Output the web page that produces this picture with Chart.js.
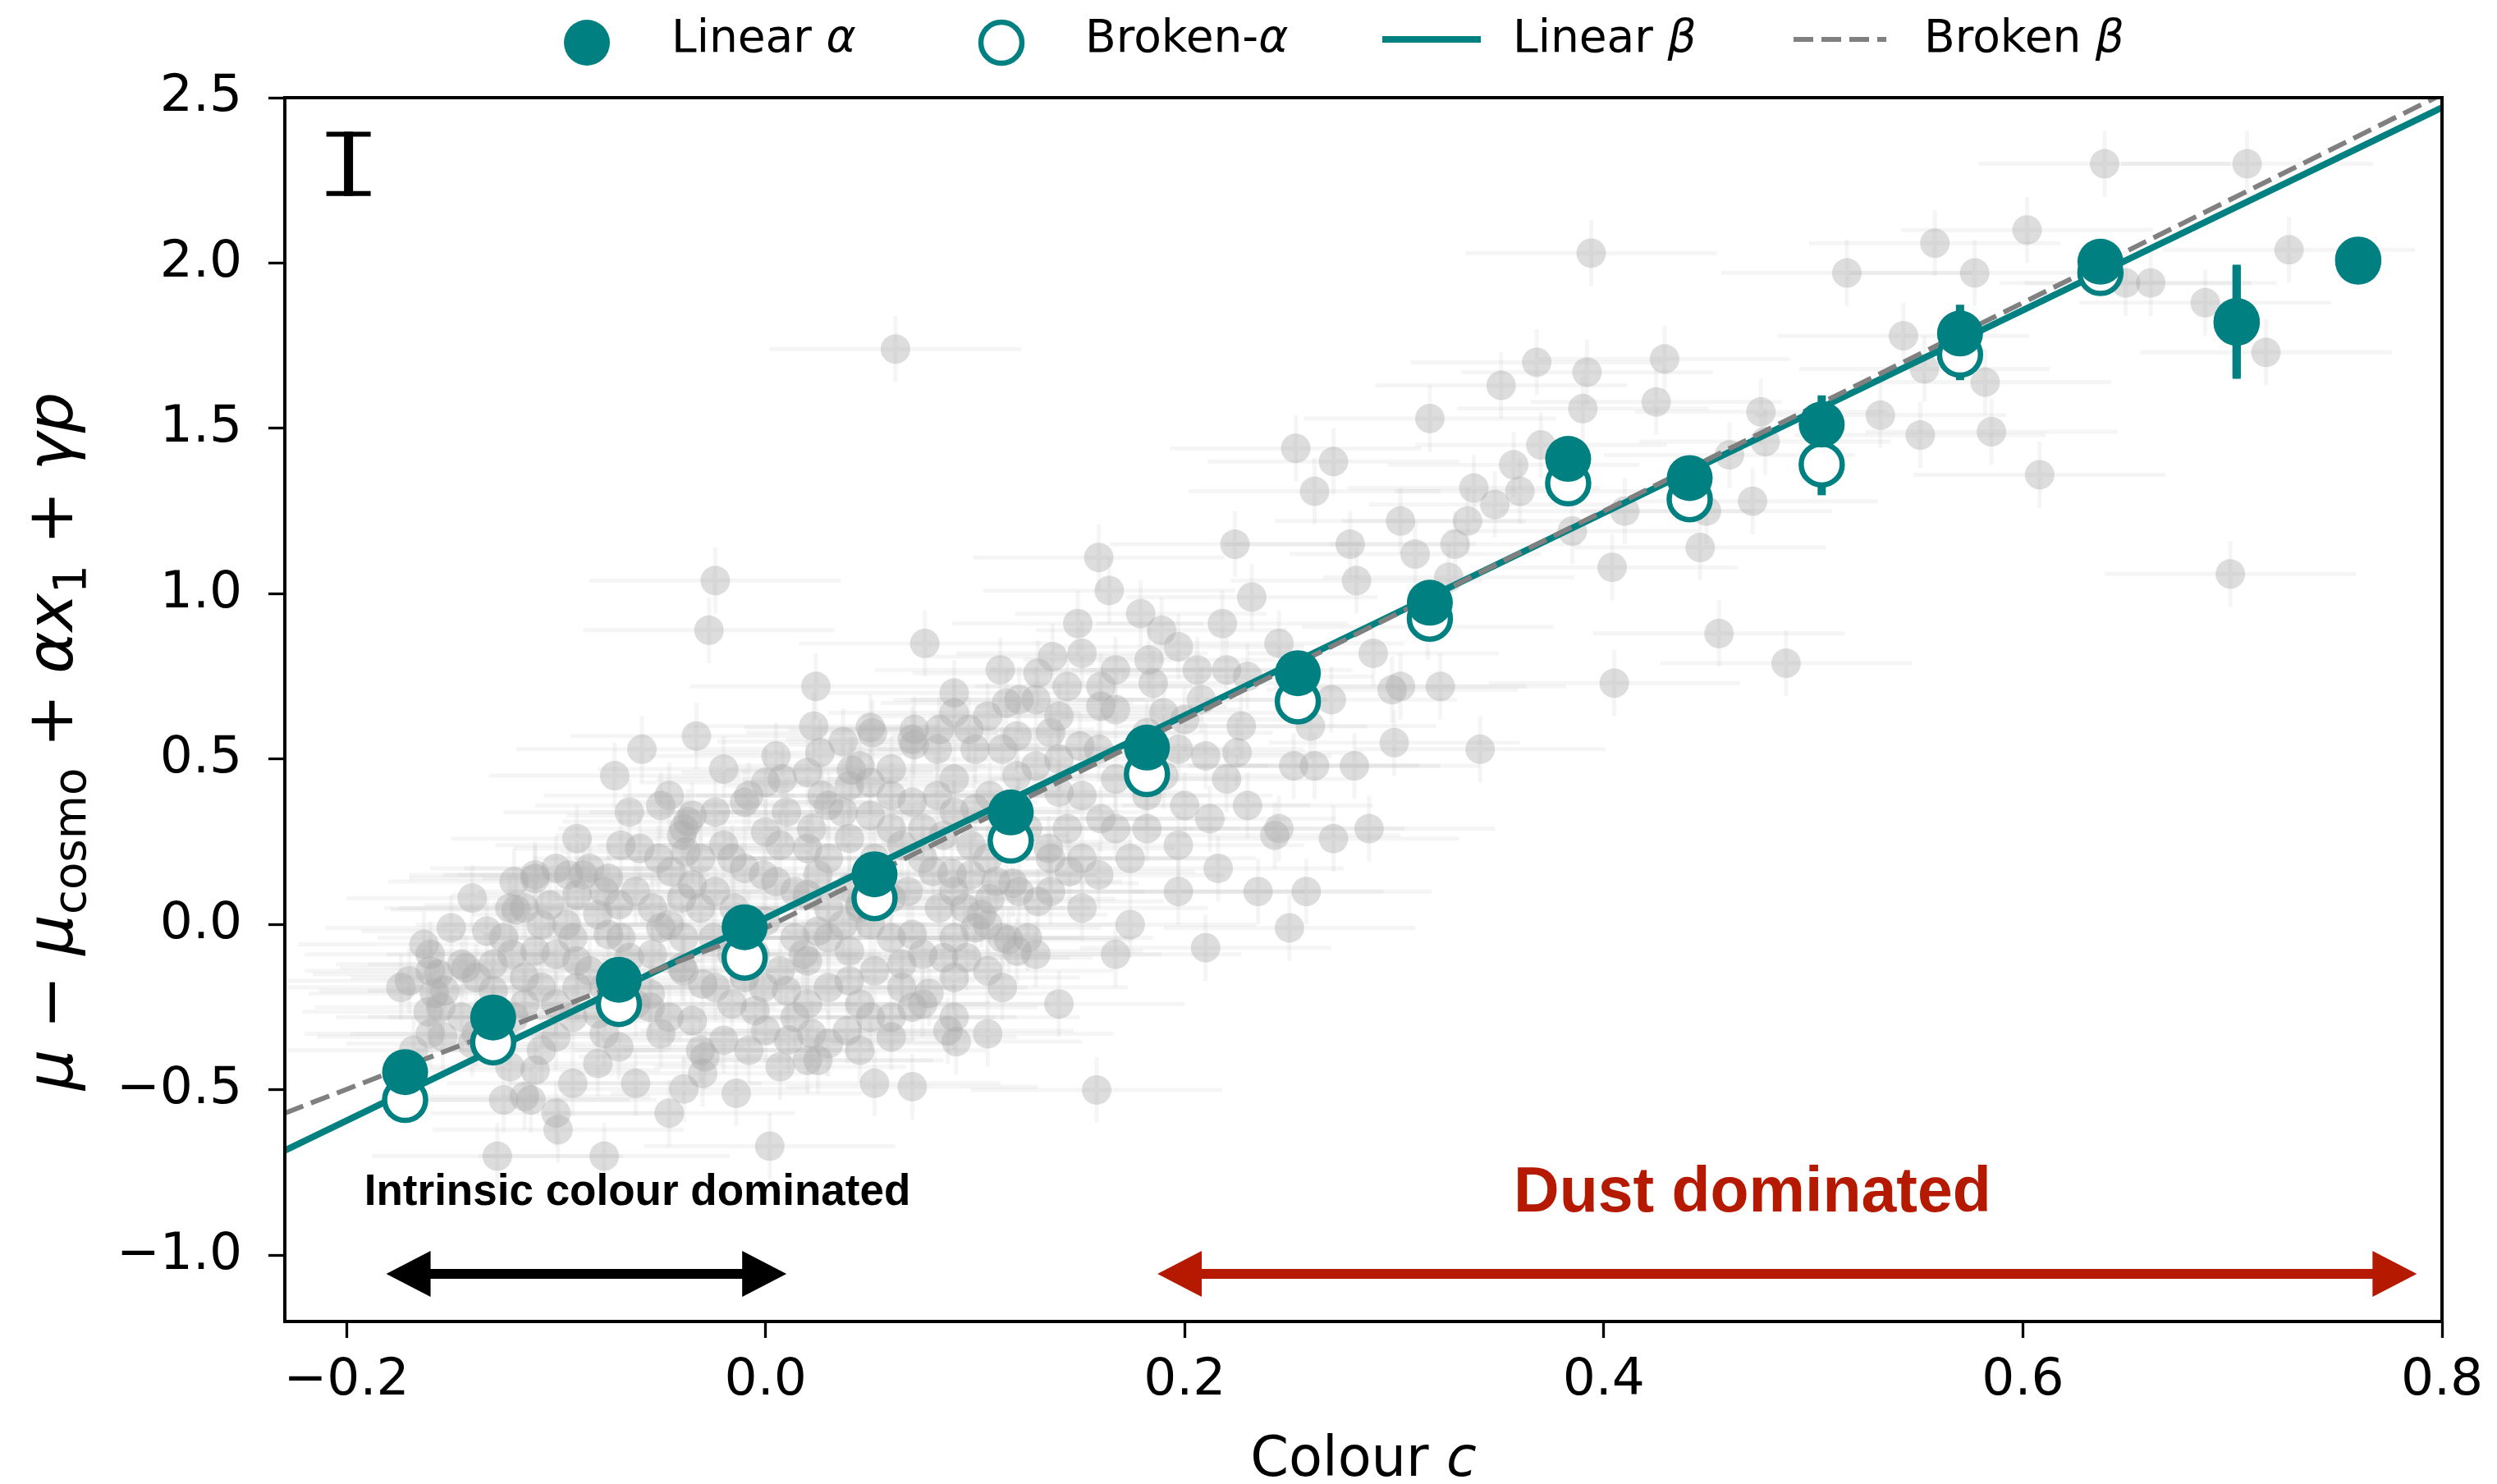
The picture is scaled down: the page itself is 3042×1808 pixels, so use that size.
<!DOCTYPE html>
<html>
<head>
<meta charset="utf-8">
<script src="https://cdn.jsdelivr.net/npm/chart.js@4.4.1/dist/chart.umd.min.js"></script>
<style>
  html, body { margin: 0; padding: 0; background: #fff; }
  #wrap { width: 3042px; height: 1808px; }
</style>
</head>
<body>
<div id="wrap"><canvas id="grafico" width="3042" height="1808"></canvas></div>
<script>
// Binned points (colour c, Hubble residual)
const binC = [-0.172, -0.130, -0.070, -0.010, 0.052, 0.117, 0.182, 0.254, 0.317, 0.383, 0.441, 0.504, 0.570, 0.637, 0.702, 0.760];
const linearAlpha = [-0.446, -0.281, -0.167, -0.008, 0.152, 0.339, 0.535, 0.760, 0.973, 1.408, 1.350, 1.512, 1.787, 2.004, 1.825, 2.004];
const linearAlphaErr = [0.02, 0.02, 0.02, 0.02, 0.02, 0.02, 0.03, 0.03, 0.03, 0.04, 0.04, 0.088, 0.087, 0.05, 0.17, 0.03];
const brokenAlpha = [-0.530, -0.356, -0.240, -0.100, 0.080, 0.254, 0.455, 0.675, 0.925, 1.334, 1.286, 1.391, 1.723, 1.970, 1.820, 2.010];
const brokenAlphaErr = [0.02, 0.02, 0.02, 0.02, 0.02, 0.02, 0.03, 0.03, 0.03, 0.04, 0.04, 0.093, 0.077, 0.05, 0.17, 0.03];

// Fitted relations
const linearBetaC = [-0.2294, 0.8];
const linearBetaMu = [-0.683, 2.470];
const brokenBetaC = [-0.2294, 0.0, 0.8];
const brokenBetaMu = [-0.570, -0.010, 2.510];

// Individual SNe (grey), spread over the whole cloud
const greyC = [0.062, -0.024, -0.027, -0.072, -0.059, -0.033, -0.163, -0.128, -0.077, 0.002, -0.014, 0.070, 0.158, 0.159, 0.076, 0.250, 0.394, 0.639, 0.707, 0.699,
  0.487, 0.455, 0.405, 0.341, 0.303, 0.300, 0.271, 0.252, 0.243, 0.516, 0.558, 0.602, 0.585, 0.608, 0.577, 0.727, 0.716, 0.687, 0.661, 0.649,
  0.543, 0.553, 0.532, 0.551, 0.582, 0.475, 0.477, 0.460, 0.471, 0.449, 0.446, 0.404, 0.429, 0.425, 0.392, 0.390, 0.368, 0.351, 0.357, 0.348,
  0.329, 0.338, 0.317, 0.326, 0.316, 0.322, 0.299, 0.290, 0.282, 0.279, 0.271, 0.253, 0.262, 0.303, 0.224, 0.232, 0.218, 0.206, 0.189, 0.179,
  0.183, 0.164, 0.149, 0.137, 0.121, 0.112, 0.090, 0.097, 0.071, 0.051, 0.026, 0.008, 0.027, 0.050, 0.082, 0.107, 0.136, 0.167, 0.197, 0.220,
  0.212, 0.197, 0.174, 0.159, 0.144, 0.125, 0.098, 0.075, 0.090, 0.136, 0.167, 0.129, 0.113, 0.151, 0.182, 0.227, 0.208, 0.197, -0.174, -0.160,
  -0.153, -0.145, -0.138, -0.133, -0.122, -0.110, -0.121, -0.107, -0.094, -0.084, -0.069, -0.080, -0.062, -0.051, -0.039, -0.046, -0.024, -0.016, -0.001, 0.007,
  -0.008, 0.014, 0.030, 0.037, 0.018, 0.030, 0.052, 0.060, 0.045, 0.014, -0.001, -0.024, -0.039, -0.046, -0.062, -0.077, -0.092, -0.107, -0.122, -0.138,
  -0.145, -0.160, -0.168, -0.115, -0.100, -0.092, -0.062, -0.046, -0.031, -0.016, -0.046, -0.031, -0.100, -0.084, -0.054, -0.069, 0.075, 0.090, 0.106, 0.121,
  0.060, 0.045, 0.022, 0.037, 0.060, 0.075, -0.065, -0.077, -0.031, 0.113, 0.106, 0.090, -0.008, 0.007, 0.022, 0.106, 0.151, 0.167, 0.174, 0.129,
  0.140, 0.113, 0.210, 0.197, 0.216, 0.230, 0.245, 0.262, 0.281, 0.288, 0.258, 0.235, -0.024, -0.008, 0.014, 0.030, 0.007, -0.016, -0.039, -0.054,
  0.052, 0.068, 0.083, 0.098, 0.106, 0.121, 0.090, 0.060, 0.030, 0.045, 0.075, 0.052, -0.115, -0.130, -0.077, -0.092, -0.107, 0.136, 0.151, 0.167,
  0.182, 0.159, 0.182, 0.129, 0.144, 0.167, 0.151, 0.106, 0.082, 0.045, 0.005, 0.024,
  0.023, 0.037, 0.050, 0.041, 0.071, 0.083, -0.037, -0.038, -0.110, -0.087, -0.119, -0.103, -0.143, -0.156, -0.158, -0.161, -0.154,
  -0.125, -0.112, -0.099, -0.039, 0.025, 0.039, 0.011, -0.029, 0.078, 0.087, 0.091, 0.096, 0.116, 0.103, 0.089, 0.107, 0.118,
  0.16, 0.20, 0.23, 0.26, 0.19, 0.225, 0.245, 0.27, 0.14, 0.16, 0.20, 0.12, 0.335, 0.36, 0.385, 0.41, 0.37, 0.31];
const greyMu = [1.74, 1.04, 0.89, 0.45, 0.53, 0.57, -0.06, -0.70, -0.70, -0.67, -0.51, -0.49, -0.50, 1.11, 0.85, -0.01, 2.03, 2.30, 2.30, 1.06,
  0.79, 0.88, 0.73, 0.53, 0.72, 0.55, 0.26, 0.48, 0.27, 1.97, 2.06, 2.10, 1.49, 1.36, 1.97, 2.04, 1.73, 1.88, 1.94, 1.94,
  1.78, 1.68, 1.54, 1.48, 1.64, 1.55, 1.46, 1.42, 1.28, 1.25, 1.14, 1.08, 1.71, 1.58, 1.67, 1.56, 1.70, 1.63, 1.39, 1.27,
  1.15, 1.32, 1.53, 1.05, 0.90, 0.72, 0.71, 0.82, 1.04, 1.15, 1.40, 1.44, 1.31, 1.22, 1.15, 0.99, 0.91, 0.77, 0.89, 0.94,
  0.80, 1.01, 0.91, 0.81, 0.68, 0.77, 0.70, 0.59, 0.59, 0.58, 0.52, 0.44, 0.39, 0.43, 0.39, 0.39, 0.58, 0.65, 0.53, 0.44,
  0.32, 0.24, 0.20, 0.15, 0.29, 0.29, 0.24, 0.20, 0.10, 0.10, 0.44, 0.48, 0.53, 0.39, 0.29, 0.60, 0.68, 0.84, -0.19, -0.14,
  -0.20, -0.12, -0.16, -0.02, 0.05, 0.15, -0.09, -0.19, 0.15, 0.17, 0.24, 0.03, 0.10, 0.20, 0.29, 0.39, 0.34, 0.20, 0.15, 0.24,
  0.39, 0.10, 0.20, 0.00, -0.09, -0.19, -0.14, -0.28, -0.38, -0.28, -0.19, -0.19, -0.14, -0.28, -0.24, -0.33, -0.28, -0.38, -0.43, -0.33,
  -0.28, -0.33, -0.38, -0.52, -0.57, -0.48, -0.48, -0.57, -0.38, -0.09, 0.00, 0.05, -0.09, -0.14, -0.09, -0.04, -0.09, -0.04, 0.00, 0.10,
  -0.04, 0.05, 0.29, 0.34, 0.29, 0.29, 0.34, 0.10, 0.20, -0.19, -0.33, -0.28, -0.38, -0.43, -0.33, -0.14, 0.05, -0.09, 0.00, -0.09,
  -0.24, -0.04, -0.07, 0.10, 0.17, 0.36, 0.29, 0.48, 0.48, 0.29, 0.10, 0.10, 0.10, 0.00, -0.04, 0.05, -0.14, -0.24, -0.04, 0.05,
  0.20, 0.10, 0.05, 0.15, 0.20, 0.34, 0.34, 0.39, -0.04, -0.24, -0.24, -0.48, -0.24, -0.28, -0.19, -0.04, 0.00, 0.20, 0.20, 0.29,
  0.39, 0.53, 0.58, 0.68, 0.72, 0.77, 0.82, 0.63, 0.53, 0.48, 0.51, 0.72,
  0.60, 0.553, 0.596, 0.467, 0.544, 0.59, 0.311, 0.22, 0.14, 0.15, 0.045, 0.059, -0.131, -0.15, -0.208, -0.264, -0.339,
  -0.53, -0.53, -0.62, -0.497, -0.41, -0.321, -0.349, -0.40, -0.208, -0.321, -0.354, -0.10, -0.046, 0.03, 0.154, 0.078, 0.125,
  0.72, 0.62, 0.75, 0.60, 0.45, 0.52, 0.85, 0.68, 0.40, 0.32, 0.36, 0.45, 1.22, 1.31, 1.19, 1.25, 1.45, 1.12];

// Dense core of the cloud, read row by row
const coreC = [
  -0.020, 0.000, 0.020, 0.040, 0.060, 0.090,
  -0.050, -0.035, -0.010, 0.010, 0.030, 0.050, 0.070, 0.100, 0.120,
  -0.090, -0.060, -0.040, -0.020, 0.000, 0.020, 0.040, 0.065, 0.085, 0.115, 0.135,
  -0.120, -0.100, -0.075, -0.045, -0.035, -0.010, 0.005, 0.025, 0.040, 0.080, 0.110, 0.145,
  -0.140, -0.115, -0.090, -0.070, -0.040, -0.015, 0.020, 0.045, 0.060, 0.095, 0.130,
  -0.150, -0.125, -0.095, -0.075, -0.050, -0.025, 0.000, 0.025, 0.050, 0.070, 0.100, 0.125,
  -0.160, -0.130, -0.110, -0.090, -0.065, -0.040, -0.005, 0.020, 0.040, 0.065, 0.085, 0.120,
  -0.170, -0.130, -0.115, -0.090, -0.070, -0.055, -0.030, -0.010, 0.010, 0.040, 0.065, 0.090,
  -0.155, -0.120, -0.100, -0.080, -0.055, -0.035, -0.005, 0.020, 0.050, 0.070,
  -0.140, -0.100, -0.070, -0.050, -0.020, 0.000, 0.030, 0.060,
  -0.110, -0.080, -0.030, 0.020,
  0.070, 0.100, 0.120, 0.150,
  0.090, 0.115, 0.140, 0.160, 0.190,
  0.130, 0.185, 0.220,
  0.140, 0.180, 0.210];
const coreMu = [
  0.47, 0.43, 0.46, 0.42, 0.47, 0.44,
  0.36, 0.33, 0.37, 0.34, 0.36, 0.33, 0.37, 0.35, 0.32,
  0.26, 0.23, 0.27, 0.24, 0.28, 0.23, 0.26, 0.24, 0.27, 0.25, 0.23,
  0.13, 0.17, 0.14, 0.16, 0.12, 0.17, 0.13, 0.15, 0.11, 0.16, 0.13, 0.16,
  0.08, 0.05, 0.09, 0.06, 0.08, 0.05, 0.09, 0.06, 0.08, 0.05, 0.07,
  -0.01, -0.04, 0.00, -0.03, -0.01, -0.04, 0.01, -0.02, 0.00, -0.03, -0.01, -0.04,
  -0.09, -0.12, -0.08, -0.11, -0.10, -0.13, -0.09, -0.11, -0.08, -0.12, -0.10, -0.08,
  -0.17, -0.20, -0.16, -0.19, -0.17, -0.21, -0.18, -0.16, -0.20, -0.17, -0.19, -0.16,
  -0.25, -0.28, -0.24, -0.27, -0.25, -0.29, -0.26, -0.24, -0.28, -0.25,
  -0.36, -0.34, -0.37, -0.33, -0.35, -0.32, -0.36, -0.34,
  -0.44, -0.42, -0.45, -0.41,
  0.56, 0.53, 0.57, 0.54,
  0.64, 0.67, 0.63, 0.66, 0.64,
  0.76, 0.73, 0.77,
  0.50, 0.48, 0.51];
const greyCErr = 0.06;
const greyMuErr = 0.10;

// Typical uncertainty marker (top left), arrows and labels
const typicalErr = { c: -0.199, mu: 2.30, err: 0.097 };
const intrinsicArrow = [-0.181, 0.010];
const dustArrow = [0.187, 0.788];
const arrowMu = -1.056;

const xTicks = [-0.2, 0.0, 0.2, 0.4, 0.6, 0.8];
const yTicks = [-1.0, -0.5, 0.0, 0.5, 1.0, 1.5, 2.0, 2.5];

const TEAL = '#008080';
const RED = '#b51a00';
const FONT = '"DejaVu Sans"';

const allGreyC = greyC.concat(coreC);
const allGreyMu = greyMu.concat(coreMu);
const toPts = (xs, ys) => xs.map((v, i) => ({ x: v, y: ys[i] }));
const fmt = v => (v < 0 ? '\u2212' : '') + Math.abs(v).toFixed(1);

// Draw a run of text pieces (italic / subscript) starting at x
function richText(ctx, parts, x, y, size, measureOnly) {
    let cx = x;
    parts.forEach(p => {
        const s = p.sub ? size * 0.7 : size;
        ctx.font = (p.it ? 'italic ' : '') + s + 'px ' + FONT;
        if (!measureOnly) ctx.fillText(p.t, cx, y + (p.sub ? size * 0.2 : 0));
        cx += ctx.measureText(p.t).width;
    });
    return cx - x;
}

function arrow(ctx, x1, x2, yy, color) {
    const hl = 54, hw = 28, sw = 12;
    ctx.fillStyle = color;
    ctx.beginPath();
    ctx.moveTo(x1, yy);
    ctx.lineTo(x1 + hl, yy - hw);
    ctx.lineTo(x1 + hl, yy - sw / 2);
    ctx.lineTo(x2 - hl, yy - sw / 2);
    ctx.lineTo(x2 - hl, yy - hw);
    ctx.lineTo(x2, yy);
    ctx.lineTo(x2 - hl, yy + hw);
    ctx.lineTo(x2 - hl, yy + sw / 2);
    ctx.lineTo(x1 + hl, yy + sw / 2);
    ctx.lineTo(x1 + hl, yy + hw);
    ctx.closePath();
    ctx.fill();
}

const decor = {
    id: 'decor',
    beforeDatasetsDraw(chart) {
        const { ctx, chartArea: a, scales: { x, y } } = chart;
        ctx.save();
        ctx.beginPath();
        ctx.rect(a.left, a.top, a.right - a.left, a.bottom - a.top);
        ctx.clip();
        ctx.strokeStyle = 'rgba(190,190,190,0.15)';
        ctx.lineWidth = 5;
        allGreyC.forEach((c, i) => {
            const X = x.getPixelForValue(c), Y = y.getPixelForValue(allGreyMu[i]);
            ctx.beginPath();
            ctx.moveTo(x.getPixelForValue(c - greyCErr), Y);
            ctx.lineTo(x.getPixelForValue(c + greyCErr), Y);
            ctx.moveTo(X, y.getPixelForValue(allGreyMu[i] - greyMuErr));
            ctx.lineTo(X, y.getPixelForValue(allGreyMu[i] + greyMuErr));
            ctx.stroke();
        });
        ctx.restore();
    },
    beforeDatasetDraw(chart, args) {
        if (args.index !== 1) return;
        const { ctx, scales: { x, y } } = chart;
        ctx.save();
        ctx.strokeStyle = TEAL;
        ctx.lineWidth = 10;
        [[brokenAlpha, brokenAlphaErr], [linearAlpha, linearAlphaErr]].forEach(([vals, errs]) => {
            binC.forEach((c, i) => {
                const X = x.getPixelForValue(c);
                ctx.beginPath();
                ctx.moveTo(X, y.getPixelForValue(vals[i] - errs[i]));
                ctx.lineTo(X, y.getPixelForValue(vals[i] + errs[i]));
                ctx.stroke();
            });
        });
        ctx.restore();
    },
    afterDatasetsDraw(chart) {
        const { ctx, chartArea: a, scales: { x, y } } = chart;
        ctx.save();
        // frame
        ctx.strokeStyle = '#000';
        ctx.lineWidth = 4;
        ctx.strokeRect(a.left, a.top, a.right - a.left, a.bottom - a.top);

        // typical error bar
        const tx = x.getPixelForValue(typicalErr.c);
        const t1 = y.getPixelForValue(typicalErr.mu + typicalErr.err);
        const t2 = y.getPixelForValue(typicalErr.mu - typicalErr.err);
        ctx.lineWidth = 11;
        ctx.beginPath(); ctx.moveTo(tx, t1); ctx.lineTo(tx, t2); ctx.stroke();
        ctx.lineWidth = 6;
        ctx.beginPath();
        ctx.moveTo(tx - 27, t1 + 3); ctx.lineTo(tx + 27, t1 + 3);
        ctx.moveTo(tx - 27, t2 - 3); ctx.lineTo(tx + 27, t2 - 3);
        ctx.stroke();

        // arrows
        const ay = y.getPixelForValue(arrowMu);
        arrow(ctx, x.getPixelForValue(intrinsicArrow[0]), x.getPixelForValue(intrinsicArrow[1]), ay, '#000');
        arrow(ctx, x.getPixelForValue(dustArrow[0]), x.getPixelForValue(dustArrow[1]), ay, RED);

        ctx.textBaseline = 'alphabetic';
        ctx.textAlign = 'left';
        ctx.fillStyle = '#000';
        ctx.font = 'bold 53px "Liberation Sans"';
        ctx.fillText('Intrinsic colour dominated', x.getPixelForValue(-0.1915), y.getPixelForValue(-0.848));
        ctx.fillStyle = RED;
        ctx.font = 'bold 77px "Liberation Sans"';
        ctx.fillText('Dust dominated', x.getPixelForValue(0.357), y.getPixelForValue(-0.868));
        ctx.restore();
    },
    afterDraw(chart) {
        const { ctx } = chart;
        ctx.save();
        ctx.fillStyle = '#000';
        ctx.textBaseline = 'alphabetic';
        ctx.textAlign = 'left';

        // legend
        const my = 52, ty = 63, ls = 55;
        ctx.fillStyle = TEAL;
        ctx.beginPath(); ctx.arc(715, my, 28, 0, Math.PI * 2); ctx.fill();
        ctx.fillStyle = '#fff';
        ctx.strokeStyle = TEAL;
        ctx.lineWidth = 6.5;
        ctx.beginPath(); ctx.arc(1220, my, 25, 0, Math.PI * 2); ctx.fill(); ctx.stroke();
        ctx.lineWidth = 8;
        ctx.beginPath(); ctx.moveTo(1684, 48); ctx.lineTo(1804, 48); ctx.stroke();
        ctx.strokeStyle = '#808080';
        ctx.lineWidth = 6;
        ctx.setLineDash([24, 10]);
        ctx.beginPath(); ctx.moveTo(2185, 48); ctx.lineTo(2298, 48); ctx.stroke();
        ctx.setLineDash([]);
        ctx.fillStyle = '#000';
        richText(ctx, [{ t: 'Linear ' }, { t: '\u03b1', it: true }], 818, ty, ls);
        richText(ctx, [{ t: 'Broken-' }, { t: '\u03b1', it: true }], 1322, ty, ls);
        richText(ctx, [{ t: 'Linear ' }, { t: '\u03b2', it: true }], 1843, ty, ls);
        richText(ctx, [{ t: 'Broken ' }, { t: '\u03b2', it: true }], 2344, ty, ls);

        // x title
        const xParts = [{ t: 'Colour ' }, { t: 'c', it: true }];
        const xw = richText(ctx, xParts, 0, 0, 67, true);
        richText(ctx, xParts, 1661 - xw / 2, 1798, 67);

        // y title
        const yParts = [
            { t: '\u03bc', it: true }, { t: ' \u2212 ' }, { t: '\u03bc', it: true }, { t: 'cosmo', sub: true },
            { t: ' + ' }, { t: '\u03b1', it: true }, { t: 'x', it: true }, { t: '1', sub: true },
            { t: ' + ' }, { t: '\u03b3', it: true }, { t: 'p', it: true }
        ];
        const ys = 78;
        const yw = richText(ctx, yParts, 0, 0, ys, true);
        ctx.translate(88, 903);
        ctx.rotate(-Math.PI / 2);
        richText(ctx, yParts, -yw / 2, 0, ys);
        ctx.restore();
    }
};

const tickFont = { family: 'DejaVu Sans', size: 63 };

window.grafico = new Chart(document.getElementById('grafico').getContext('2d'), {
    type: 'scatter',
    data: {
        datasets: [
            {
                label: 'Linear \u03b1',
                data: toPts(binC, linearAlpha),
                backgroundColor: TEAL,
                borderWidth: 0,
                pointRadius: 28,
                order: 0
            },
            {
                label: 'Broken-\u03b1',
                data: toPts(binC, brokenAlpha),
                backgroundColor: '#fff',
                borderColor: TEAL,
                borderWidth: 6.5,
                pointRadius: 25,
                order: 1
            },
            {
                label: 'Linear \u03b2',
                data: toPts(linearBetaC, linearBetaMu),
                showLine: true,
                borderColor: TEAL,
                borderWidth: 8,
                pointRadius: 0,
                order: 3
            },
            {
                label: 'Broken \u03b2',
                data: toPts(brokenBetaC, brokenBetaMu),
                showLine: true,
                borderColor: '#808080',
                borderWidth: 6,
                borderDash: [24, 10],
                pointRadius: 0,
                order: 2
            },
            {
                label: 'SNe',
                data: toPts(allGreyC, allGreyMu),
                backgroundColor: 'rgba(170,170,170,0.40)',
                borderWidth: 0,
                pointRadius: 18,
                order: 4
            }
        ]
    },
    options: {
        responsive: false,
        animation: false,
        events: [],
        layout: { padding: { top: 119, right: 67, left: 0, bottom: 0 } },
        plugins: {
            legend: { display: false },
            tooltip: { enabled: false }
        },
        scales: {
            x: {
                type: 'linear',
                min: -0.2294,
                max: 0.8,
                afterBuildTicks: s => { s.ticks = xTicks.map(v => ({ value: v })); },
                afterFit: s => { s.height = 198; },
                border: { display: false },
                grid: { drawOnChartArea: false, drawTicks: true, tickLength: 20, tickWidth: 3.3, tickColor: '#000' },
                ticks: { font: tickFont, color: '#000', padding: 15, maxRotation: 0, callback: v => fmt(v) }
            },
            y: {
                type: 'linear',
                min: -1.2,
                max: 2.5,
                afterBuildTicks: s => { s.ticks = yTicks.map(v => ({ value: v })); },
                afterFit: s => { s.width = 347; },
                border: { display: false },
                grid: { drawOnChartArea: false, drawTicks: true, tickLength: 20, tickWidth: 3.3, tickColor: '#000' },
                ticks: { font: tickFont, color: '#000', padding: 32, callback: v => fmt(v) }
            }
        }
    },
    plugins: [decor]
});
</script>
</body>
</html>
